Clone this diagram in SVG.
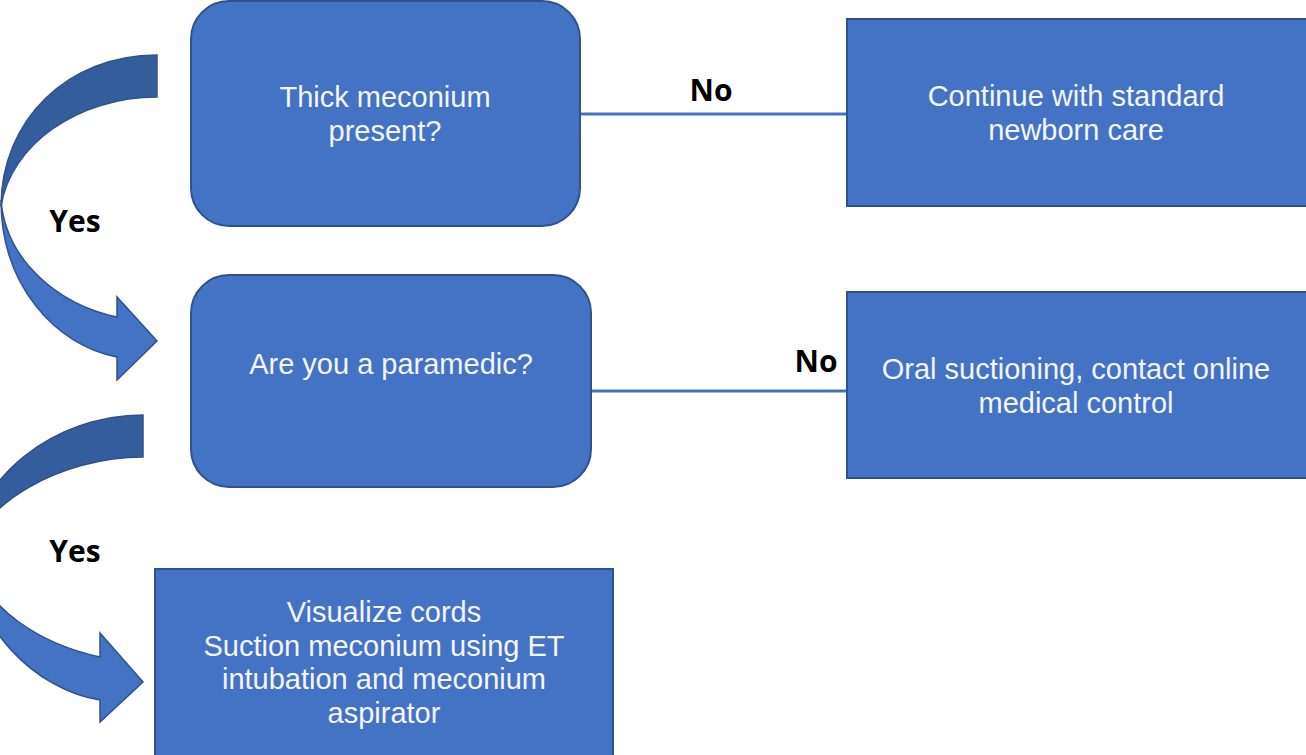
<svg xmlns="http://www.w3.org/2000/svg" width="1306" height="755" viewBox="0 0 1306 755">
<style>
.box{fill:#4472C4;stroke:#2F528F;stroke-width:2}
.t{font-family:"Liberation Sans",Arial,sans-serif;font-size:29px;fill:#F4F6FA;text-anchor:middle}
.lbl{font-family:"Open Sans","Liberation Sans",sans-serif;font-weight:700;font-size:30px;fill:#000;text-anchor:middle}
.edge{stroke:#4472C4;stroke-width:3;fill:none}
.back{fill:#345D9C;stroke:#2F528F;stroke-width:1.5}
.front{fill:#4472C4;stroke:#2F528F;stroke-width:1.5}
</style>
<rect width="1306" height="755" fill="#fff"/>
<g id="connectors">
<line class="edge" x1="580" y1="114" x2="847" y2="114"/>
<line class="edge" x1="590" y1="391" x2="847" y2="391"/>
<text class="lbl" x="711" y="101">No</text>
<text class="lbl" x="816" y="372">No</text>
<g id="yes1">
<path class="back" d="M157,55 C 68,55 1,120 1,207 C 10,145 78,97 157,97 Z"/>
<path class="front" d="M1,200 C 1,285 55,345 117,357 L117,380 L157,341 L117,297 L117,317 C 60,305 6,262 1,200 Z"/>
<text class="lbl" x="75" y="232">Yes</text>
</g>
<g id="yes2">
<path class="back" d="M143,415 C 55,415 -28,478 -30,557 C -22,505 60,457 143,457 Z"/>
<path class="front" d="M-30,550 C -30,625 35,690 100,700 L100,722 L143,682 L100,633 L100,657 C 45,645 -20,610 -30,550 Z"/>
<text class="lbl" x="75" y="562">Yes</text>
</g>
</g>
<g id="n1">
<rect class="box" x="191" y="1" width="389" height="225" rx="38"/>
<text class="t" x="385" y="107">Thick meconium</text>
<text class="t" x="385" y="141">present?</text>
</g>
<g id="n2">
<rect class="box" x="847" y="19" width="465" height="187"/>
<text class="t" x="1076" y="106">Continue with standard</text>
<text class="t" x="1076" y="140">newborn care</text>
</g>
<g id="n3">
<rect class="box" x="191" y="275" width="400" height="212" rx="38"/>
<text class="t" x="391" y="374">Are you a paramedic?</text>
</g>
<g id="n4">
<rect class="box" x="847" y="292" width="465" height="186"/>
<text class="t" x="1076" y="379">Oral suctioning, contact online</text>
<text class="t" x="1076" y="413">medical control</text>
</g>
<g id="n5">
<rect class="box" x="155" y="569" width="458" height="195"/>
<text class="t" x="384" y="622">Visualize cords</text>
<text class="t" x="384" y="656">Suction meconium using ET</text>
<text class="t" x="384" y="689">intubation and meconium</text>
<text class="t" x="384" y="723">aspirator</text>
</g>
</svg>
